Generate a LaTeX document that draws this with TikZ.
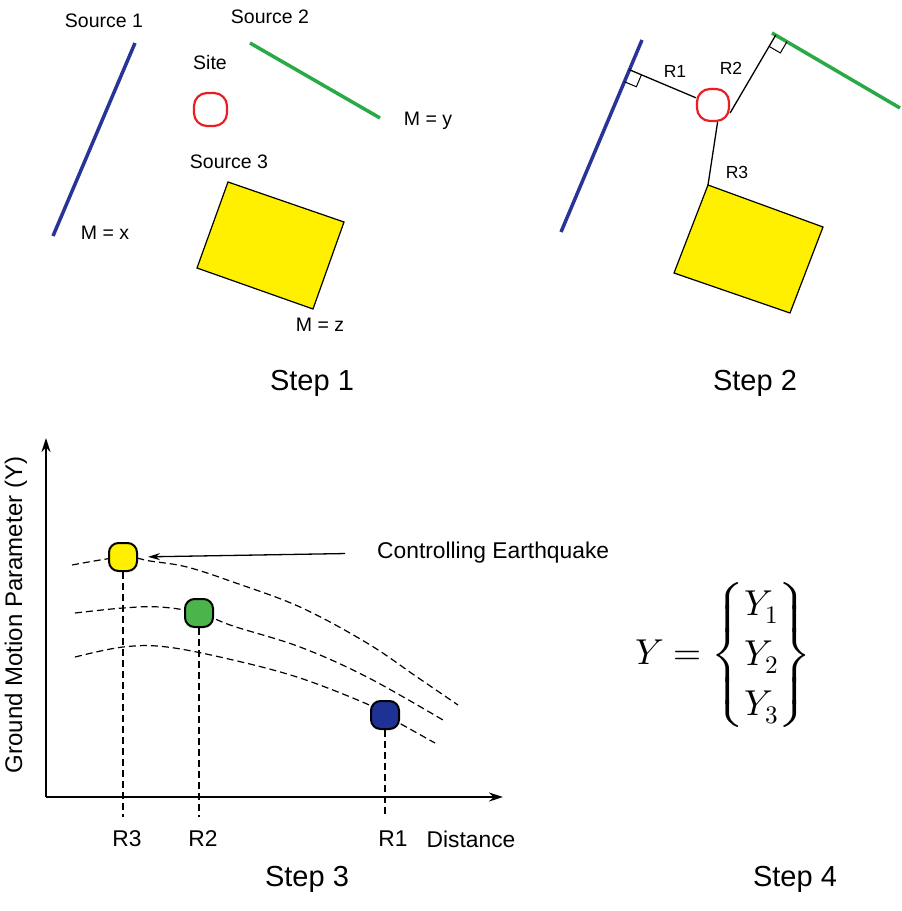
\documentclass[tikz,border=0pt]{standalone}
\usepackage{fontspec}
\usepackage{unicode-math}
\setmainfont{Liberation Sans}
\usetikzlibrary{calc,arrows.meta}

\definecolor{srcblue}{RGB}{40,52,150}
\definecolor{srcgreen}{RGB}{40,170,70}
\definecolor{srcyellow}{RGB}{255,240,0}
\definecolor{sitered}{RGB}{235,30,35}
\definecolor{dotgreen}{RGB}{75,180,75}
\definecolor{dotblue}{RGB}{30,50,150}

\begin{document}
\begin{tikzpicture}[x=1pt,y=-1pt,
  lbl/.style={font=\fontsize{19.5}{23}\selectfont, inner sep=0pt},
  rlbl/.style={font=\fontsize{17.5}{20}\selectfont, inner sep=0pt},
  plotlbl/.style={font=\fontsize{22.8}{27}\selectfont, inner sep=0pt},
  steplbl/.style={font=\fontsize{29}{34}\selectfont, inner sep=0pt},
  srcline/.style={line width=3.5pt},
  sitebox/.style={draw=sitered, line width=2.2pt, rounded corners=13pt,
                  minimum size=33pt, inner sep=0pt},
  areasrc/.style={draw=black, fill=srcyellow, line width=1.2pt, line join=miter},
  distline/.style={line width=1.3pt},
  rightmark/.style={line width=1pt},
  quake/.style={draw=black, line width=2pt, rounded corners=9.5pt,
                minimum size=28pt, inner sep=0pt},
  attcurve/.style={dash pattern=on 7pt off 4pt, line width=1.2pt},
  axisline/.style={line width=1.5pt, -{Stealth[length=14pt,width=9pt]}}
]
\useasboundingbox (0,0) rectangle (902,911);

% ---------------- Step 1: sources and site ----------------
\coordinate (b1a) at (135,43);
\coordinate (b1b) at (53,236);
\draw[srcline, srcblue] (b1a) -- (b1b);
\coordinate (g1a) at (250,43);
\coordinate (g1b) at (380,118);
\draw[srcline, srcgreen] (g1a) -- (g1b);
\coordinate (y1a) at (228,182);
\coordinate (y1b) at (344,222);
\coordinate (y1c) at (313,309);
\coordinate (y1d) at (197,268);
\draw[areasrc] (y1a) -- (y1b) -- (y1c) -- (y1d) -- cycle;
\node[sitebox] (site1) at (210.5,109.5) {};

\node[lbl] (s1lbl) at (104,21) {Source 1};
\node[lbl] (s2lbl) at (270,17) {Source 2};
\node[lbl] (sitelbl) at (210,63) {Site};
\node[lbl] (mylbl) at (428,121) {M = y};
\node[lbl] (s3lbl) at (229,162) {Source 3};
\node[lbl] (mxlbl) at (105,233) {M = x};
\node[lbl] (mzlbl) at (320,325) {M = z};
\node[steplbl] (step1) at (312,383) {Step 1};

% ---------------- Step 2: source-to-site distances ----------------
\coordinate (b2a) at (642,40);
\coordinate (b2b) at (561,232);
\draw[srcline, srcblue] (b2a) -- (b2b);
\coordinate (g2a) at (772,33);
\coordinate (g2b) at (900,108);
\draw[srcline, srcgreen] (g2a) -- (g2b);
\coordinate (y2a) at (708,185);
\coordinate (y2b) at (823,227);
\coordinate (y2c) at (790,313);
\coordinate (y2d) at (674,273);
\draw[areasrc] (y2a) -- (y2b) -- (y2c) -- (y2d) -- cycle;
\node[sitebox, minimum size=32pt] (site2) at (713,105) {};

% R1: perpendicular from the line source 1
\coordinate (f1) at ($(b2a)!(site2.center)!(b2b)$);
\draw[distline] (f1) -- (site2);
\coordinate (f1u) at ($(f1)!13pt!(site2.center)$);
\coordinate (f1v) at ($(f1)!13pt!(b2b)$);
\coordinate (f1w) at ($(f1u)+(f1v)-(f1)$);
\draw[rightmark] (f1u) -- (f1w) -- (f1v);

% R2: perpendicular from the line source 2
\coordinate (f2) at ($(g2a)!(site2.-25)!(g2b)$);
\draw[distline] (f2) -- (site2.-25);
\coordinate (f2u) at ($(f2)!13pt!(site2.-25)$);
\coordinate (f2v) at ($(f2)!13pt!(g2b)$);
\coordinate (f2w) at ($(f2u)+(f2v)-(f2)$);
\draw[rightmark] (f2u) -- (f2w) -- (f2v);

% R3: to the nearest corner of the area source
\draw[distline] (site2.-75) -- (y2a);

\node[rlbl] (r1lbl) at (675,71) {R1};
\node[rlbl] (r2lbl) at (731,68) {R2};
\node[rlbl] (r3lbl) at (737,172) {R3};
\node[steplbl] (step2) at (755,383) {Step 2};

% ---------------- Step 3: attenuation curves ----------------
\coordinate (origin) at (46,797);
\coordinate (ytip) at (46,438);
\coordinate (xtip) at (503,797);
\draw[axisline] (origin) -- (ytip);
\draw[axisline] (origin) -- (xtip);

\draw[attcurve] plot[smooth, tension=0.6] coordinates
  {(72,565) (123,557) (150,561) (187,567) (233,582) (300,607) (367,643) (417,677) (458,705)};
\draw[attcurve] plot[smooth, tension=0.6] coordinates
  {(75,613) (123,608) (160,607) (199,613) (233,626) (300,647) (367,677) (443,720)};
\draw[attcurve] plot[smooth, tension=0.6] coordinates
  {(75,657) (123,647) (167,647) (233,660) (300,678) (367,704) (385,715) (435,743)};

\coordinate (t3) at (123,817);
\coordinate (t2) at (199,817);
\coordinate (t1) at (385,817);
\node[quake, fill=srcyellow] (q3) at (123,557) {};
\node[quake, fill=dotgreen] (q2) at (199,613) {};
\node[quake, fill=dotblue] (q1) at (385,715) {};
\draw[attcurve] (q3.south) -- (t3);
\draw[attcurve] (q2.south) -- (t2);
\draw[attcurve] (q1.south) -- (t1);

\node[plotlbl, anchor=west] (ctrl) at (377,553) {Controlling Earthquake};
\draw[line width=1.3pt, -{Stealth[length=12pt,width=7pt]}, shorten <=32pt, shorten >=10pt]
  (ctrl.west) -- (q3.east);

\node[plotlbl, font=\fontsize{24}{28}\selectfont, rotate=90] (ylbl) at (16,615)
  {Ground Motion Parameter (Y)};
\node[plotlbl] (r3tick) at (127,839) {R3};
\node[plotlbl] (r2tick) at (203,839) {R2};
\node[plotlbl] (r1tick) at (393,839) {R1};
\node[plotlbl] (distlbl) at (471,839) {Distance};
\node[steplbl] (step3) at (307,879) {Step 3};

% ---------------- Step 4: set of controlling motions ----------------
\node[inner sep=0pt, font=\fontsize{36}{50}\selectfont] (eqn) at (723,655)
  {$Y = \left\{\begin{array}{@{}c@{}}Y_1\\ Y_2\\ Y_3\end{array}\right\}$};
\node[steplbl] (step4) at (795,879) {Step 4};
\end{tikzpicture}
\end{document}
